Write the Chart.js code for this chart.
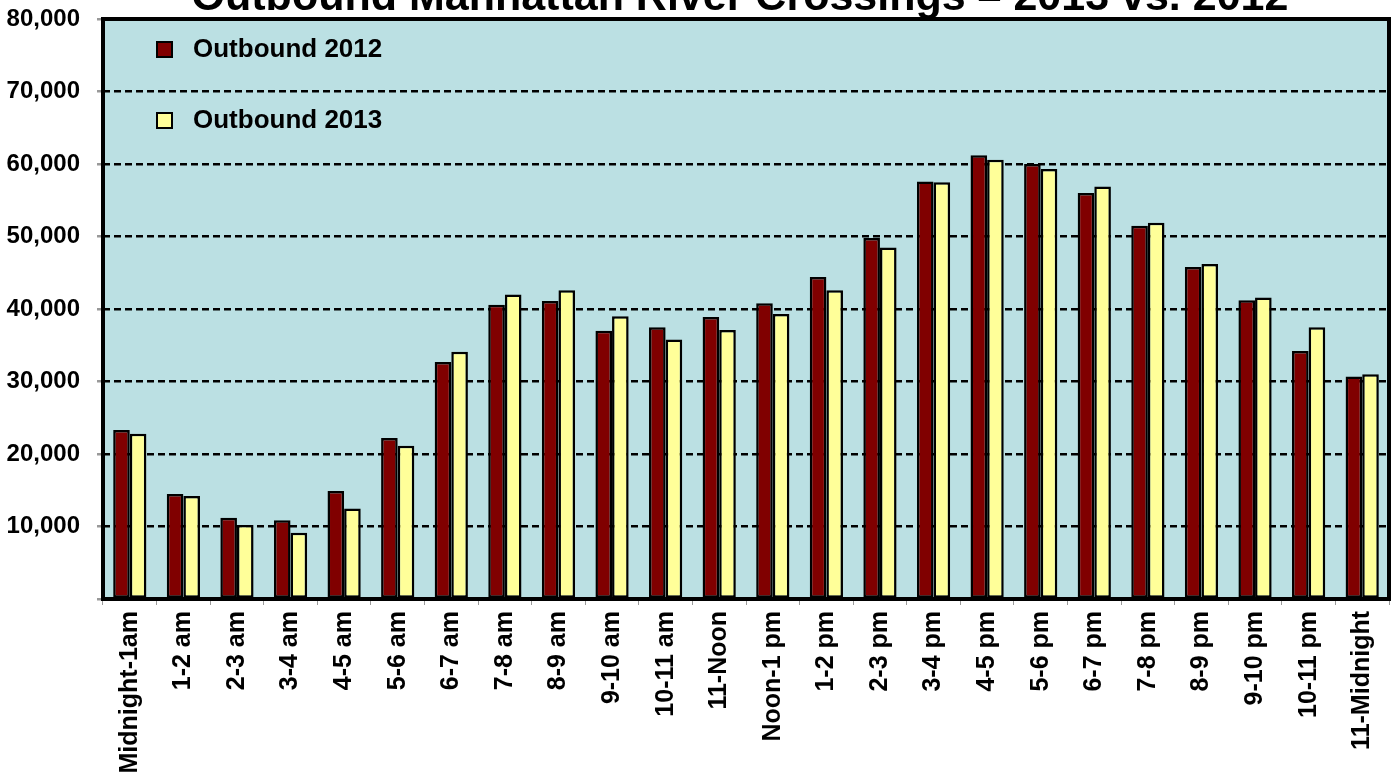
<!DOCTYPE html>
<html>
<head>
<meta charset="utf-8">
<title>Outbound Manhattan River Crossings</title>
<script src="https://cdn.jsdelivr.net/npm/chart.js@4.4.1/dist/chart.umd.min.js"></script>
<style>
  body { margin: 0; background: #fff; }
  #wrap { width: 1399px; height: 778px; }
</style>
</head>
<body>
<div id="wrap"><canvas id="barChart" width="1399" height="778"></canvas></div>
<script>
// data
var hours = ['Midnight-1am', '1-2 am', '2-3 am', '3-4 am', '4-5 am', '5-6 am', '6-7 am', '7-8 am',
  '8-9 am', '9-10 am', '10-11 am', '11-Noon', 'Noon-1 pm', '1-2 pm', '2-3 pm', '3-4 pm',
  '4-5 pm', '5-6 pm', '6-7 pm', '7-8 pm', '8-9 pm', '9-10 pm', '10-11 pm', '11-Midnight'];
var out2012 = [23300, 14500, 11200, 10850, 14900, 22200, 32700, 40600, 41100, 37000, 37500, 38900,
  40800, 44400, 49800, 57600, 61200, 60000, 56000, 51500, 45800, 41200, 34200, 30700];
var out2013 = [22800, 14200, 10200, 9150, 12500, 21150, 34100, 42000, 42600, 39000, 35800, 37100,
  39300, 42600, 48500, 57500, 60600, 59300, 56900, 51900, 46200, 41600, 37500, 31000];
var seriesNames = ['Outbound 2012', 'Outbound 2013'];
var yMax = 80000;
var yStep = 10000;
var chartTitle = 'Outbound Manhattan River Crossings \u2013 2013 vs. 2012';

var FONT = '"Liberation Sans", Arial, sans-serif';

// plot background, frame, legend and the (cut off) title
var decor = {
  id: 'decor',
  beforeDraw: function(chart) {
    var a = chart.chartArea, c = chart.ctx;
    c.save();
    c.fillStyle = '#BBE0E3';
    c.fillRect(a.left, a.top, a.right - a.left, a.bottom - a.top);
    c.restore();
  },
  afterDraw: function(chart) {
    var a = chart.chartArea, c = chart.ctx;
    c.save();
    c.strokeStyle = '#000';
    c.lineWidth = 4;
    c.strokeRect(a.left, a.top, a.right - a.left, a.bottom - a.top);

    // legend inside the plot
    var ds = chart.data.datasets;
    var rows = [49, 120];
    c.font = 'bold 26px ' + FONT;
    c.textBaseline = 'middle';
    for (var i = 0; i < ds.length; i++) {
      c.fillStyle = ds[i].backgroundColor;
      c.fillRect(157, rows[i] - 7, 15, 15);
      c.lineWidth = 2;
      c.strokeStyle = '#000';
      c.strokeRect(157, rows[i] - 7, 15, 15);
      c.fillStyle = '#000';
      c.fillText(ds[i].label, 193, rows[i] + 1);
    }

    // title sits above the top of the picture
    c.font = 'bold 43px ' + FONT;
    c.textAlign = 'center';
    c.textBaseline = 'alphabetic';
    c.fillText(chartTitle, 740, 10);
    c.restore();
  }
};

var ctx = document.getElementById('barChart').getContext('2d');
var myChart = new Chart(ctx, {
  type: 'bar',
  data: {
    labels: hours,
    datasets: [{
      label: seriesNames[0],
      data: out2012,
      backgroundColor: '#800000',
      borderColor: '#000',
      borderWidth: 2.5,
      borderSkipped: false
    }, {
      label: seriesNames[1],
      data: out2013,
      backgroundColor: '#FFFF99',
      borderColor: '#000',
      borderWidth: 2.5,
      borderSkipped: false
    }]
  },
  options: {
    responsive: false,
    animation: false,
    layout: { padding: { top: 19, right: 10, left: 0, bottom: 0 } },
    datasets: { bar: { categoryPercentage: 0.62, barPercentage: 1.0 } },
    plugins: {
      legend: { display: false },
      title: { display: false },
      tooltip: { enabled: false }
    },
    scales: {
      x: {
        offset: true,
        grid: { drawOnChartArea: false, drawTicks: true, tickLength: 6, tickColor: '#999', lineWidth: 1 },
        border: { display: false },
        ticks: {
          color: '#000',
          font: { family: FONT, size: 25, weight: 'bold' },
          minRotation: 90,
          maxRotation: 90,
          autoSkip: false,
          padding: 6
        },
        afterFit: function(scale) { scale.height = 179; }
      },
      y: {
        min: 0,
        max: yMax,
        grid: { color: '#000', lineWidth: 2.5, tickColor: '#999', tickLength: 6, drawTicks: true },
        border: { display: false, dash: [7, 4] },
        ticks: {
          stepSize: yStep,
          color: '#000',
          padding: 17,
          font: { family: FONT, size: 24, weight: 'bold' },
          callback: function(v) { return v === 0 ? '' : v.toLocaleString('en-US'); }
        },
        afterFit: function(scale) {
          scale.width = 103;
          // let the top label hang over the padding instead of pushing the plot down
          scale.paddingTop = 0;
          scale.paddingBottom = 0;
        }
      }
    }
  },
  plugins: [decor]
});
</script>
</body>
</html>
